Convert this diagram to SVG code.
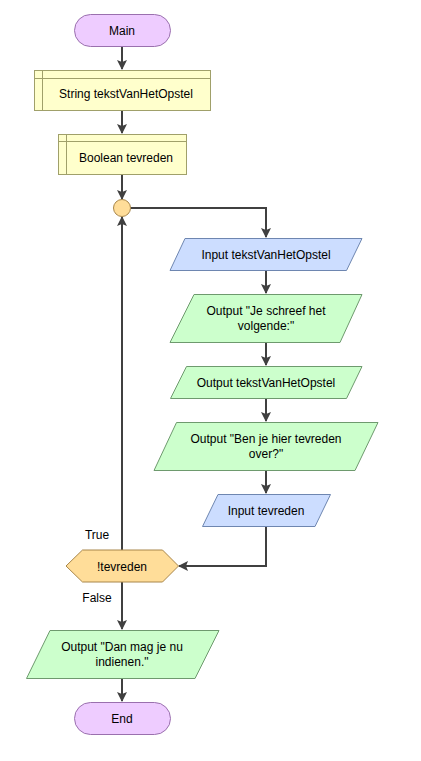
<svg xmlns="http://www.w3.org/2000/svg" width="421" height="761" viewBox="0 0 421 761">
<style>
.term{fill:#EECCFF;stroke:#9A70AE;stroke-width:1}
.decl{fill:#FFFFCC;stroke:#A0A06A;stroke-width:1}
.inp{fill:#CCDDFF;stroke:#6E86B0;stroke-width:1}
.out{fill:#CCFFCC;stroke:#6E9A6E;stroke-width:1}
.dec{fill:#FFDD99;stroke:#A8864A;stroke-width:1}
.t{font-family:"Liberation Sans",Arial,sans-serif;font-size:12px;fill:#000;text-anchor:middle}
.c{fill:none;stroke:#404040;stroke-width:2}
</style>
<defs>
<marker id="ah" markerWidth="10" markerHeight="10" refX="9" refY="5" orient="auto" markerUnits="userSpaceOnUse">
<path d="M0,0 L10,5 L0,10 L2,5 Z" fill="#404040"/>
</marker>
</defs>
<g id="connectors">
<path class="c" d="M122,46 V69" marker-end="url(#ah)"/>
<path class="c" d="M122,110 V133" marker-end="url(#ah)"/>
<path class="c" d="M122,174 V199" marker-end="url(#ah)"/>
<path class="c" d="M130.5,208 H266 V237" marker-end="url(#ah)"/>
<path class="c" d="M266,270 V293" marker-end="url(#ah)"/>
<path class="c" d="M266,342 V365" marker-end="url(#ah)"/>
<path class="c" d="M266,398 V421" marker-end="url(#ah)"/>
<path class="c" d="M266,470 V493" marker-end="url(#ah)"/>
<path class="c" d="M266,526 V566 H179" marker-end="url(#ah)"/>
<path class="c" d="M122,550 V217" marker-end="url(#ah)"/>
<path class="c" d="M122,582 V629" marker-end="url(#ah)"/>
<path class="c" d="M122,678 V701" marker-end="url(#ah)"/>
<text class="t" x="97" y="539">True</text>
<text class="t" x="97" y="602">False</text>
</g>
<g id="main">
<rect class="term" x="74.5" y="14.5" width="96" height="32" rx="16"/>
<text class="t" x="122" y="34.5">Main</text>
</g>
<g id="decl1">
<rect class="decl" x="34.5" y="70.5" width="176" height="40"/>
<path class="decl" d="M42.5,70.5 V110.5 M34.5,78.5 H210.5" fill="none"/>
<text class="t" x="126" y="98">String tekstVanHetOpstel</text>
</g>
<g id="decl2">
<rect class="decl" x="58.5" y="134.5" width="128" height="40"/>
<path class="decl" d="M66.5,134.5 V174.5 M58.5,141.5 H186.5" fill="none"/>
<text class="t" x="126" y="162">Boolean tevreden</text>
</g>
<g id="loop">
<circle class="dec" cx="122" cy="208" r="8.5"/>
</g>
<g id="input1">
<polygon class="inp" points="185,238.5 362,238.5 346.5,270.5 170,270.5"/>
<text class="t" x="266" y="258.5">Input tekstVanHetOpstel</text>
</g>
<g id="output1">
<polygon class="out" points="194,294.5 362,294.5 340,342.5 170,342.5"/>
<text class="t" x="266" y="314.5">Output "Je schreef het</text>
<text class="t" x="266" y="329.5">volgende:"</text>
</g>
<g id="output2">
<polygon class="out" points="186.5,366.5 362,366.5 346.5,398.5 170.5,398.5"/>
<text class="t" x="266" y="386.5">Output tekstVanHetOpstel</text>
</g>
<g id="output3">
<polygon class="out" points="176.5,422.5 378,422.5 355,470.5 154,470.5"/>
<text class="t" x="266" y="442.5">Output "Ben je hier tevreden</text>
<text class="t" x="266" y="457.5">over?"</text>
</g>
<g id="input2">
<polygon class="inp" points="218,494.5 330.5,494.5 315,526.5 202.5,526.5"/>
<text class="t" x="266" y="514.5">Input tevreden</text>
</g>
<g id="decision">
<polygon class="dec" points="66,566 82.5,550 162.5,550 178.5,566 162.5,582 82.5,582"/>
<text class="t" x="122" y="570.5">!tevreden</text>
</g>
<g id="output4">
<polygon class="out" points="50,630.5 219,630.5 195,678.5 26.5,678.5"/>
<text class="t" x="122" y="650.5">Output "Dan mag je nu</text>
<text class="t" x="122" y="665.5">indienen."</text>
</g>
<g id="end">
<rect class="term" x="74.5" y="702.5" width="96" height="32" rx="16"/>
<text class="t" x="122" y="722.5">End</text>
</g>
</svg>
